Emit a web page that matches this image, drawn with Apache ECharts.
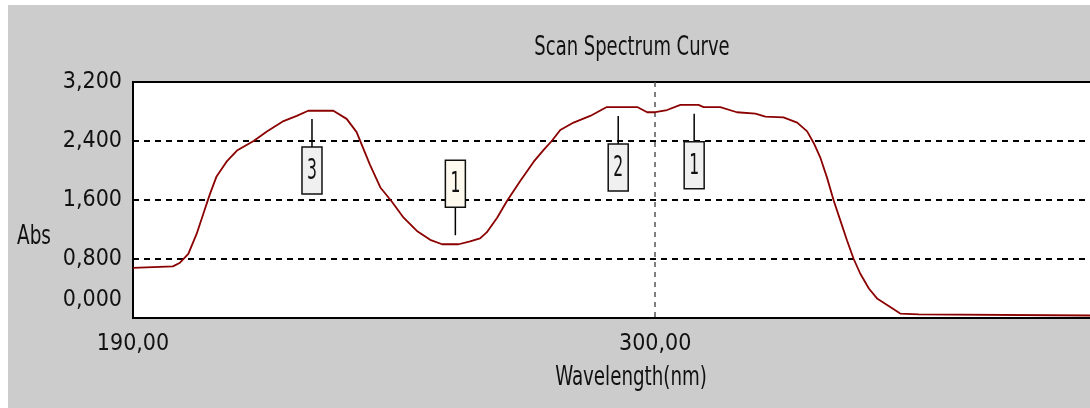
<!DOCTYPE html>
<html>
<head>
<meta charset="utf-8">
<script src="https://cdn.jsdelivr.net/npm/echarts@6/dist/echarts.min.js"></script>
<style>
  html, body { margin: 0; padding: 0; background: #ffffff; }
  #chart { position: absolute; left: 8px; top: 5px; width: 1082px; height: 403px; }
</style>
</head>
<body>
<div id="chart"></div>
<script>
  // wavelength (nm) / absorbance
  const wavelength = [
    190.0, 198.4, 199.9, 201.65, 203.4, 204.8, 206.2, 207.6, 209.7, 211.9,
    215.4, 218.2, 221.7, 224.5, 226.9, 232.2, 235.0, 237.1, 239.9, 242.1,
    244.5, 247.0, 249.8, 252.6, 255.1, 258.6, 261.0, 263.1, 264.5, 266.7,
    268.8, 271.6, 274.4, 276.5, 278.2, 280.0, 282.8, 286.3, 289.8, 296.2,
    298.3, 300.0, 302.5, 305.3, 309.1, 310.2, 313.7, 317.2, 321.1, 323.2,
    327.0, 329.9, 332.0, 333.4, 334.8, 336.2, 337.6, 339.0, 340.4, 341.8,
    343.2, 345.0, 346.8, 349.5, 351.6, 355.5, 355.9, 400.0
  ];
  const absorbance = [
    0.68, 0.70, 0.75, 0.87, 1.14, 1.41, 1.68, 1.92, 2.12, 2.27,
    2.40, 2.53, 2.67, 2.74, 2.81, 2.81, 2.70, 2.52, 2.08, 1.77,
    1.58, 1.36, 1.18, 1.06, 1.00, 1.00, 1.04, 1.08, 1.16, 1.36,
    1.59, 1.86, 2.12, 2.28, 2.40, 2.55, 2.65, 2.74, 2.86, 2.86,
    2.79, 2.79, 2.82, 2.89, 2.89, 2.86, 2.86, 2.79, 2.77, 2.73,
    2.72, 2.65, 2.53, 2.37, 2.17, 1.90, 1.59, 1.32, 1.05, 0.80,
    0.60, 0.40, 0.26, 0.15, 0.06, 0.05, 0.03, 0.03
  ];

  // peak / valley markers
  const markWavelength = [227.7, 257.9, 292.2, 308.2];
  const markAbs = [2.82, 1.00, 2.86, 2.89];
  const markText = ['3', '1', '2', '1'];
  const markKind = ['peak', 'valley', 'peak', 'peak'];

  const xTicks = [190, 300];

  const FONT = "'Liberation Sans Narrow', 'Arial Narrow', 'DejaVu Sans Condensed', sans-serif";

  let chart = echarts.init(document.getElementById('chart'));

  const lineData = wavelength.map((w, i) => [w, absorbance[i]]);
  const markData = markWavelength.map((w, i) => [w, markAbs[i], i]);

  function renderMark(params, api) {
    const i = api.value(2);
    const p = api.coord([api.value(0), api.value(1)]);
    const boxW = 20, boxH = 47, gap = 9, stem = 28;
    let stemY1, stemY2, boxY;
    if (markKind[i] === 'peak') {
      stemY1 = p[1] + gap;
      stemY2 = p[1] + gap + stem;
      boxY = stemY2;
    } else {
      stemY1 = p[1] - gap;
      stemY2 = p[1] - gap - stem;
      boxY = stemY2 - boxH;
    }
    return {
      type: 'group',
      children: [
        {
          type: 'line',
          shape: { x1: p[0], y1: stemY1, x2: p[0], y2: stemY2 },
          style: { stroke: '#000', lineWidth: 1.5 }
        },
        {
          type: 'rect',
          shape: { x: p[0] - boxW / 2, y: boxY, width: boxW, height: boxH },
          style: {
            fill: markKind[i] === 'valley' ? '#fffaf0' : '#f0f0f0',
            stroke: '#111',
            lineWidth: 1.5
          }
        },
        {
          type: 'text',
          x: p[0],
          y: boxY + boxH / 2 + 1,
          scaleX: 0.62,
          style: {
            text: markText[i],
            align: 'center',
            verticalAlign: 'middle',
            fill: '#111',
            font: '28px ' + FONT
          }
        }
      ]
    };
  }

  const option = {
    backgroundColor: '#cccccc',
    animation: false,
    textStyle: { fontFamily: FONT },
    graphic: [
      {
        // chart title
        type: 'text',
        x: 624,
        y: 43,
        scaleX: 0.74,
        style: {
          text: 'Scan Spectrum Curve',
          align: 'center',
          verticalAlign: 'middle',
          font: '27px ' + FONT,
          fill: '#111'
        }
      },
      {
        type: 'text',
        x: 9,
        y: 232,
        scaleX: 0.79,
        style: {
          text: 'Abs',
          align: 'left',
          verticalAlign: 'middle',
          font: '26px ' + FONT,
          fill: '#111'
        }
      },
      {
        type: 'text',
        x: 623,
        y: 373,
        scaleX: 0.78,
        style: {
          text: 'Wavelength(nm)',
          align: 'center',
          verticalAlign: 'middle',
          font: '26px ' + FONT,
          fill: '#111'
        }
      }
    ],
    grid: {
      left: 125,
      top: 77,
      width: 997,
      height: 236,
      outerBoundsMode: 'none',
      containLabel: false,
      show: true,
      backgroundColor: '#ffffff',
      borderColor: '#000',
      borderWidth: 2
    },
    xAxis: {
      type: 'value',
      min: 190,
      max: 400,
      interval: 110,
      axisLine: { show: true, lineStyle: { color: '#000', width: 2 } },
      axisTick: { show: false },
      axisLabel: {
        margin: 15,
        fontFamily: FONT,
        fontSize: 23,
        color: '#111',
        showMaxLabel: false,
        formatter: v => (xTicks.indexOf(v) >= 0 ? v.toFixed(2).replace('.', ',') : '')
      },
      splitLine: {
        show: true,
        lineStyle: { color: '#555', width: 1.5, type: [5, 5] }
      }
    },
    yAxis: {
      type: 'value',
      min: 0,
      max: 3.2,
      interval: 0.8,
      axisLine: { show: true, lineStyle: { color: '#000', width: 2 } },
      axisTick: { show: false },
      axisLabel: {
        margin: 11,
        fontFamily: FONT,
        fontSize: 23,
        lineHeight: 36,
        color: '#111',
        verticalAlignMinLabel: 'bottom',
        formatter: v => v.toFixed(3).replace('.', ',')
      },
      splitLine: {
        show: true,
        lineStyle: { color: '#000', width: 2, type: [6, 5] }
      }
    },
    series: [
      {
        type: 'line',
        data: lineData,
        showSymbol: false,
        smooth: false,
        lineStyle: { color: '#8b0000', width: 1.8 },
        z: 3
      },
      {
        type: 'custom',
        data: markData,
        renderItem: renderMark,
        z: 4
      }
    ]
  };
  chart.setOption(option);
</script>
</body>
</html>
